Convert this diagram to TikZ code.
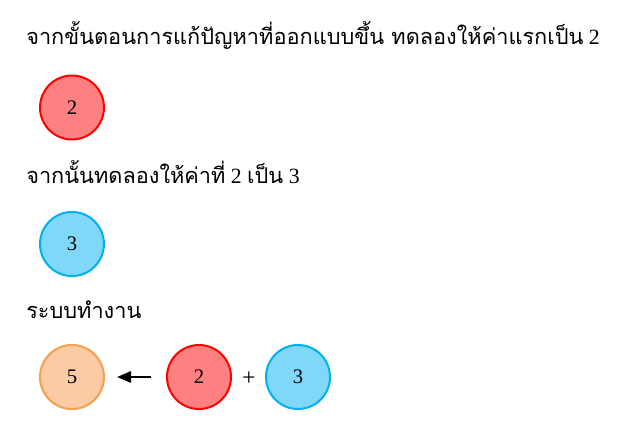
\documentclass[tikz,border=0pt]{standalone}
\usepackage{fontspec}
\setmainfont{Liberation Serif}
\newfontfamily\thaifont[Script=Thai]{Loma}
\usepackage{xcolor}
\usetikzlibrary{arrows.meta}
\definecolor{valred}{HTML}{FF8080}
\definecolor{valredline}{HTML}{FF0000}
\definecolor{valblue}{HTML}{80D8F8}
\definecolor{valblueline}{HTML}{00B0F0}
\definecolor{valorange}{HTML}{FBCBA3}
\definecolor{valorangeline}{HTML}{F5A050}

\begin{document}
\begin{tikzpicture}[x=0.75pt,y=-0.75pt,
  line/.style={anchor=west,inner sep=0pt,font=\fontsize{16.3}{19}\selectfont},
  val/.style={circle,line width=1.5pt,minimum size=48pt,inner sep=0pt,font=\fontsize{15.5}{18}\selectfont},
  redval/.style={val,draw=valredline,fill=valred},
  blueval/.style={val,draw=valblueline,fill=valblue},
  sumval/.style={val,draw=valorangeline,fill=valorange}]
  \useasboundingbox (0,0) rectangle (627,438);
  % steps
  \node[line] (stepone) at (26,35) {\thaifont จากขั้นตอนการแก้ปัญหาที่ออกแบบขึ้น ทดลองให้ค่าแรกเป็น\rmfamily\ 2};
  \node[redval] (first) at (72,107.5) {2};
  \node[line] (steptwo) at (26,172) {\thaifont จากนั้นทดลองให้ค่าที่\rmfamily\ 2 \thaifont เป็น\rmfamily\ 3};
  \node[blueval] (second) at (72,244) {3};
  \node[line] (stepthree) at (26,310) {\thaifont ระบบทำงาน};
  % result
  \node[sumval] (sum) at (72,377) {5};
  \node[redval] (a) at (199,377) {2};
  \node[blueval] (b) at (298,377) {3};
  \node[font=\fontsize{18}{20}\selectfont] (plus) at (249,378.5) {+};
  \draw[line width=1.5pt,-{Triangle[length=10.5pt,width=8.5pt]},shorten <=11pt,shorten >=9pt] (a) -- (sum);
\end{tikzpicture}
\end{document}
